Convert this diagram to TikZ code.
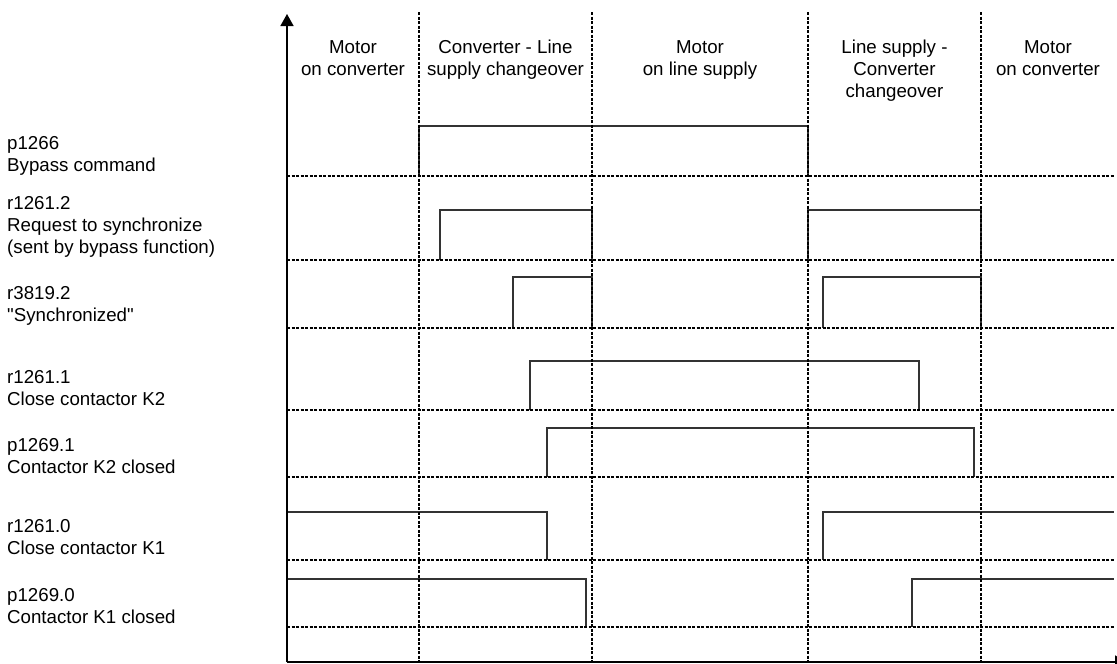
\documentclass[tikz,border=0pt]{standalone}
\usepackage{fontspec}
\setmainfont{Liberation Sans}
\usetikzlibrary{arrows.meta}

\begin{document}
\begin{tikzpicture}[
    x=1pt, y=-1pt,
    sigtext/.style={anchor=north west, align=left, inner sep=0pt, font=\fontsize{18.7}{22}\selectfont},
    phase/.style={anchor=north, align=center, inner sep=0pt, font=\fontsize{18.7}{22}\selectfont},
    pulse/.style={line width=1.3pt, draw=black!80},
    divider/.style={line width=2.8pt, draw=black, dash pattern=on 3pt off 1.5pt},
    axis/.style={line width=1.6pt, draw=black, -{Triangle[length=12pt, width=13pt]}},
]
\useasboundingbox (0,0) rectangle (1117,664);

\node[phase] (mconv1) at (353,40) {Motor\\on converter};
\node[phase] (chg1) at (505.5,40) {Converter - Line\\supply changeover};
\node[phase] (mline) at (700,40) {Motor\\on line supply};
\node[phase] (chg2) at (894.5,40) {Line supply -\\Converter\\changeover};
\node[phase] (mconv2) at (1048,40) {Motor\\on converter};

\node[sigtext] (bypass) at (7,136.6) {p1266\\Bypass command};
\node[sigtext] (request) at (7,196.6) {r1261.2\\Request to synchronize\\(sent by bypass function)};
\node[sigtext] (synced) at (7,286.6) {r3819.2\\\textquotedbl Synchronized\textquotedbl};
\node[sigtext] (closektwo) at (7,370.6) {r1261.1\\Close contactor K2};
\node[sigtext] (ktwo) at (7,438.6) {p1269.1\\Contactor K2 closed};
\node[sigtext] (closekone) at (7,519.6) {r1261.0\\Close contactor K1};
\node[sigtext] (kone) at (7,588.6) {p1269.0\\Contactor K1 closed};

\draw[pulse] (419,176) -- (419,126) -- (808,126) -- (808,176);
\draw[pulse] (440,260) -- (440,210) -- (592,210) -- (592,260);
\draw[pulse] (808,260) -- (808,210) -- (981,210) -- (981,260);
\draw[pulse] (513,328) -- (513,277) -- (592,277) -- (592,328);
\draw[pulse] (823,328) -- (823,277) -- (981,277) -- (981,328);
\draw[pulse] (530,410) -- (530,361) -- (919,361) -- (919,410);
\draw[pulse] (547,477) -- (547,428) -- (974,428) -- (974,477);
\draw[pulse] (287,512) -- (547,512) -- (547,560);
\draw[pulse] (823,560) -- (823,512) -- (1114,512);
\draw[pulse] (287,579) -- (586,579) -- (586,627);
\draw[pulse] (912,627) -- (912,579) -- (1114,579);

\draw[divider] (287,176) -- (1115,176);
\draw[divider] (287,260) -- (1115,260);
\draw[divider] (287,328) -- (1115,328);
\draw[divider] (287,410) -- (1115,410);
\draw[divider] (287,477) -- (1115,477);
\draw[divider] (287,560) -- (1115,560);
\draw[divider] (287,627) -- (1115,627);

\draw[divider] (419,12) -- (419,662);
\draw[divider] (592,12) -- (592,662);
\draw[divider] (808,12) -- (808,662);
\draw[divider] (981,12) -- (981,662);

\coordinate (origin) at (287,662);
\coordinate (ytip) at (287,14);
\coordinate (xtip) at (1127,662);
\draw[axis] (origin) -- (ytip);
\draw[axis] (origin) -- (xtip);

\end{tikzpicture}
\end{document}
